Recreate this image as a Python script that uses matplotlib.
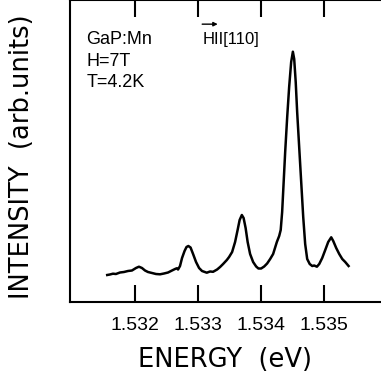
import matplotlib
matplotlib.use("Agg")
import matplotlib.pyplot as plt

# spectrum (energy in eV, intensity in arb. units)
energy = [1.531560, 1.531603, 1.531651, 1.531698, 1.531762, 1.531825, 1.531889, 1.531952,
          1.532016, 1.532063, 1.532111, 1.532159, 1.532206, 1.532270, 1.532333, 1.532397,
          1.532460, 1.532524, 1.532587, 1.532635, 1.532662, 1.532683, 1.532714, 1.532746,
          1.532786, 1.532817, 1.532846, 1.532881, 1.532921, 1.532968, 1.533016, 1.533063,
          1.533138, 1.533190, 1.533238, 1.533302, 1.533349, 1.533397, 1.533456, 1.533492,
          1.533540, 1.533587, 1.533627, 1.533659, 1.533694, 1.533722, 1.533754, 1.533786,
          1.533825, 1.533873, 1.533921, 1.533957, 1.534000, 1.534048, 1.534095, 1.534143,
          1.534190, 1.534249, 1.534286, 1.534310, 1.534333, 1.534357, 1.534381, 1.534413,
          1.534444, 1.534476, 1.534503, 1.534524, 1.534548, 1.534571, 1.534603, 1.534635,
          1.534667, 1.534698, 1.534730, 1.534770, 1.534810, 1.534841, 1.534884, 1.534921,
          1.534968, 1.535016, 1.535063, 1.535111, 1.535143, 1.535190, 1.535238, 1.535286,
          1.535333, 1.535386]
intensity = [27.0, 27.5, 28.3, 28.0, 29.5, 30.0, 31.0, 31.5,
             34.0, 35.3, 34.0, 31.5, 30.0, 29.0, 28.0, 27.7,
             28.5, 29.5, 31.5, 33.0, 33.7, 32.5, 36.0, 44.0,
             51.0, 55.0, 56.0, 54.5, 48.0, 40.0, 34.0, 31.0,
             29.3, 30.5, 30.2, 32.5, 35.0, 38.0, 42.0, 45.0,
             50.0, 60.0, 72.0, 82.0, 87.0, 84.0, 74.0, 60.0,
             48.0, 40.0, 35.5, 33.5, 33.5, 35.5, 38.5, 43.0,
             48.0, 60.0, 66.0, 72.0, 90.0, 120.0, 150.0, 185.0,
             215.0, 240.0, 250.3, 243.0, 220.0, 190.0, 155.0, 120.0,
             85.0, 58.0, 43.0, 38.0, 36.0, 36.5, 35.3, 38.0,
             44.0, 52.0, 60.0, 64.7, 61.0, 54.0, 48.0, 43.0,
             40.0, 36.0]

xticks = [1.532, 1.533, 1.534, 1.535]
xticklabels = ["1.532", "1.533", "1.534", "1.535"]
info_lines = ["GaP:Mn", "H=7T", "T=4.2K"]

plt.rcParams['font.family'] = ['Liberation Sans', 'DejaVu Sans']

fig = plt.figure(figsize=(3.81, 3.77), dpi=100)
ax = fig.add_axes([70 / 381, 75 / 377, 1 - 70 / 381, 302 / 377])

ax.plot(energy, intensity, color='black', linewidth=1.8)

ax.set_xlim(1.53097, 1.53590)
ax.set_ylim(0, 302)
ax.spines['right'].set_visible(False)
for s in ['left', 'bottom', 'top']:
    ax.spines[s].set_linewidth(1.5)

ax.set_xticks(xticks)
ax.set_xticklabels(xticklabels, fontsize=14, family=['Liberation Sans Narrow', 'Liberation Sans'])
ax.tick_params(axis='x', direction='in', length=12, width=1.5, top=True, pad=11)
ax.set_yticks([])

ax.set_xlabel("ENERGY  (eV)", fontsize=18.5, labelpad=9, family=['DejaVu Sans'])
ax.set_ylabel("INTENSITY  (arb.units)", fontsize=18.5, family=['DejaVu Sans'])
ax.yaxis.set_label_coords(-0.112, 0.48)

for i, line in enumerate(info_lines):
    ax.text(0.052, 0.870 - i * 0.072, line, transform=ax.transAxes,
            fontsize=13, va='center', ha='left')

ax.text(0.425, 0.870, "HII[110]", transform=ax.transAxes,
        fontsize=12, va='center', ha='left')
ax.annotate("", xy=(0.475, 0.920), xytext=(0.425, 0.920), xycoords='axes fraction',
            arrowprops=dict(arrowstyle='-|>', color='black', lw=1.0,
                            mutation_scale=6, shrinkA=0, shrinkB=0))

fig.savefig("out.png", dpi=100)
